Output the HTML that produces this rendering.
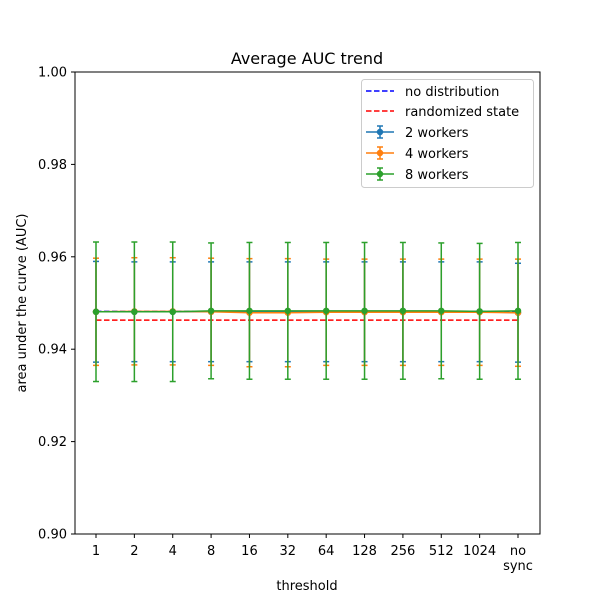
<!DOCTYPE html>
<html><head><meta charset="utf-8"><style>
body{margin:0;background:#fff}
svg text{font-family:"DejaVu Sans","Liberation Sans",sans-serif;fill:#000}
</style></head><body>
<svg id="chart" width="600" height="600" xmlns="http://www.w3.org/2000/svg">
<rect width="600" height="600" fill="#fff"/>
<text x="307" y="64" font-size="16" text-anchor="middle">Average AUC trend</text>
<g id="yticks"></g><g id="xticks"></g>
<g id="series"></g>
<rect x="75" y="72" width="465" height="462" fill="none" stroke="#000" stroke-width="1"/>
<text x="307" y="590" font-size="13" text-anchor="middle">threshold</text>
<text transform="translate(26,303) rotate(-90)" font-size="13" text-anchor="middle">area under the curve (AUC)</text>
<g id="legend">
<rect x="361.5" y="79.5" width="172" height="108" rx="3" fill="#fff" stroke="#ccc"/>
<line x1="366" y1="91" x2="394" y2="91" stroke="#0000ff" stroke-width="1.5" stroke-dasharray="5.5,2.5"/>
<text x="405" y="96" font-size="13">no distribution</text>
<line x1="366" y1="111" x2="394" y2="111" stroke="#ff0000" stroke-width="1.5" stroke-dasharray="5.5,2.5"/>
<text x="405" y="116" font-size="13">randomized state</text>
<g stroke="#1f77b4" stroke-width="1.5"><line x1="366" y1="132" x2="394" y2="132"/><line x1="380" y1="126" x2="380" y2="138"/><line x1="377" y1="126" x2="383" y2="126"/><line x1="377" y1="138" x2="383" y2="138"/><circle cx="380" cy="132" r="2.5" fill="#1f77b4"/></g>
<text x="405" y="137" font-size="13">2 workers</text>
<g stroke="#ff7f0e" stroke-width="1.5"><line x1="366" y1="153" x2="394" y2="153"/><line x1="380" y1="147" x2="380" y2="159"/><line x1="377" y1="147" x2="383" y2="147"/><line x1="377" y1="159" x2="383" y2="159"/><circle cx="380" cy="153" r="2.5" fill="#ff7f0e"/></g>
<text x="405" y="158" font-size="13">4 workers</text>
<g stroke="#2ca02c" stroke-width="1.5"><line x1="366" y1="174" x2="394" y2="174"/><line x1="380" y1="168" x2="380" y2="180"/><line x1="377" y1="168" x2="383" y2="168"/><line x1="377" y1="180" x2="383" y2="180"/><circle cx="380" cy="174" r="2.5" fill="#2ca02c"/></g>
<text x="405" y="179" font-size="13">8 workers</text>
</g>
</svg>
<script>
const categories=["1","2","4","8","16","32","64","128","256","512","1024","no sync"];
const yTicks=[0.90,0.92,0.94,0.96,0.98,1.00];
const noDistribution=0.9482;
const randomizedState=0.9463;
const mean2=[0.9481,0.9481,0.9481,0.9481,0.9481,0.9481,0.9481,0.9481,0.9481,0.9481,0.9481,0.9479];
const err2=[0.0109,0.0108,0.0108,0.0108,0.0108,0.0108,0.0108,0.0108,0.0108,0.0108,0.0108,0.0107];
const mean4=[0.9481,0.9482,0.9482,0.9481,0.9479,0.9479,0.9480,0.9480,0.9480,0.9480,0.9480,0.9479];
const err4=[0.0116,0.0116,0.0116,0.0116,0.0117,0.0117,0.0115,0.0115,0.0115,0.0115,0.0115,0.0116];
const mean8=[0.9481,0.9481,0.9481,0.9483,0.9483,0.9483,0.9483,0.9483,0.9483,0.9483,0.9482,0.9483];
const err8=[0.0151,0.0151,0.0151,0.0147,0.0148,0.0148,0.0148,0.0148,0.0148,0.0147,0.0147,0.0148];

const NS="http://www.w3.org/2000/svg";
function xPos(i){return 96+i*(518-96)/(categories.length-1);}
function yPos(v){return 534-(v-0.90)/0.10*462;}
function mk(tag,attrs,parent){const e=document.createElementNS(NS,tag);for(const k in attrs)e.setAttribute(k,attrs[k]);parent.appendChild(e);return e;}
const yt=document.getElementById('yticks');
yTicks.forEach(v=>{const y=yPos(v);
 const l=mk('line',{x1:71,x2:75,y1:y,y2:y,stroke:'#000'},yt);
 
 
 const t=mk('text',{x:67,y:y+4.5,'font-size':13,'text-anchor':'end'},yt);t.textContent=v.toFixed(2);
 
 
});
const xt=document.getElementById('xticks');
categories.forEach((c,i)=>{const x=xPos(i);
 const l=mk('line',{x1:x,x2:x,y1:534,y2:538,stroke:'#000'},xt);
 
 
 const t=mk('text',{x:x,y:555,'font-size':13,'text-anchor':'middle'},xt);
 
 
 const parts=c.split(' ');
 parts.forEach((p,j)=>{const ts=mk('tspan',{x:x,dy:j?15:0},t);ts.textContent=p;});
});
const sg=document.getElementById('series');
function hline(v,color,name){const l=mk('line',{x1:xPos(0),x2:xPos(categories.length-1),y1:yPos(v),y2:yPos(v),stroke:color,'stroke-width':1.5,'stroke-dasharray':'5.5,2.5'},sg);
 
 }
function series(means,errs,color,name){
 const g=mk('g',{stroke:color,'stroke-width':1.5},sg);
 
 
 means.forEach((m,i)=>{const x=xPos(i);
  const b=mk('line',{x1:x,x2:x,y1:yPos(m+errs[i]),y2:yPos(m-errs[i])},g);
  
  
  mk('line',{x1:x-3,x2:x+3,y1:yPos(m+errs[i]),y2:yPos(m+errs[i])},g);
  mk('line',{x1:x-3,x2:x+3,y1:yPos(m-errs[i]),y2:yPos(m-errs[i])},g);
 });
 const p=mk('polyline',{points:means.map((m,i)=>xPos(i)+','+yPos(m)).join(' '),fill:'none'},g);
 
 
 means.forEach((m,i)=>{const c=mk('circle',{cx:xPos(i),cy:yPos(m),r:2.5,fill:color},g);
  
  });
}
hline(noDistribution,'#0000ff','no-distribution-line');
hline(randomizedState,'#ff0000','randomized-state-line');
series(mean2,err2,'#1f77b4','series-2-workers');
series(mean4,err4,'#ff7f0e','series-4-workers');
series(mean8,err8,'#2ca02c','series-8-workers');
</script>
</body></html>
